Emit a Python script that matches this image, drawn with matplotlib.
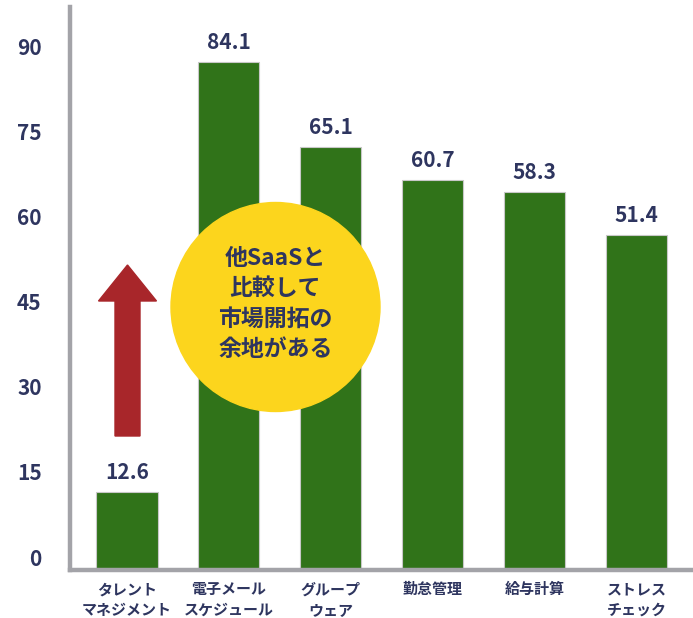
import matplotlib
matplotlib.use("Agg")
import matplotlib.pyplot as plt
from matplotlib.patches import Circle, FancyArrow
from matplotlib.transforms import Affine2D, ScaledTranslation

plt.rcParams['font.family'] = ['Noto Sans CJK JP', 'DejaVu Sans']

categories = ['タレント\nマネジメント', '電子メール\nスケジュール', 'グループ\nウェア',
              '勤怠管理', '給与計算', 'ストレス\nチェック']
bar_heights = [13.8, 89.6, 74.6, 68.8, 66.7, 59.1]   # heights as drawn against the axis
value_labels = ['12.6', '84.1', '65.1', '60.7', '58.3', '51.4']
yticks = [0, 15, 30, 45, 60, 75, 90]

navy = '#2e355f'
green = '#307319'
grey = '#a3a3a8'

W, H = 693, 618
fig = plt.figure(figsize=(W / 100, H / 100), dpi=100)
ax = fig.add_axes([69.5 / W, (H - 570) / H, 1 - 69.5 / W, (570 - 7) / H])

x = range(len(categories))
ax.bar(x, bar_heights, width=0.6, color=green, edgecolor='#c8c8c8', linewidth=0.8, zorder=2)

for i, (h, lab) in enumerate(zip(bar_heights, value_labels)):
    ax.annotate(lab, (i, h), xytext=(0, 9.5), textcoords='offset points',
                ha='center', va='baseline', fontsize=15, fontweight='bold', color=navy)

ax.set_xlim(-0.564, 5.554)
ax.set_ylim(0, 99.3)
ax.set_yticks(yticks)
ax.set_yticklabels([str(t) for t in yticks], fontsize=15, fontweight='bold', color=navy)
ax.set_xticks(list(x))
ax.set_xticklabels(categories, fontsize=10.8, fontweight='bold', color=navy, linespacing=1.38)
ax.tick_params(axis='y', length=0, pad=20)
ax.tick_params(axis='x', length=0, pad=8)
off = ScaledTranslation(0, 13 / 100, fig.dpi_scale_trans)
for t in ax.get_yticklabels():
    t.set_transform(t.get_transform() + off)

for s in ['top', 'right']:
    ax.spines[s].set_visible(False)
for s in ['left', 'bottom']:
    ax.spines[s].set_color(grey)
    ax.spines[s].set_linewidth(3.2)
    ax.spines[s].set_zorder(3)

# pixel coordinates measured from the top-left corner of the figure
px = Affine2D().scale(1, -1).translate(0, H).scale(1 / 100) + fig.dpi_scale_trans

arrow = FancyArrow(127.5, 436, 0, -171, width=25, head_width=58, head_length=36,
                   length_includes_head=True, color='#a8262a', transform=px, zorder=4)
fig.patches.append(arrow)

circle = Circle((275.5, 307), 104.5, color='#fcd51d', transform=px, zorder=4)
fig.patches.append(circle)
fig.text(275.5, 304, '他SaaSと\n比較して\n市場開拓の\n余地がある', transform=px,
         ha='center', va='center', fontsize=16.5, fontweight='bold', color=navy,
         linespacing=1.4, zorder=5)

fig.savefig('out.png', dpi=100)
